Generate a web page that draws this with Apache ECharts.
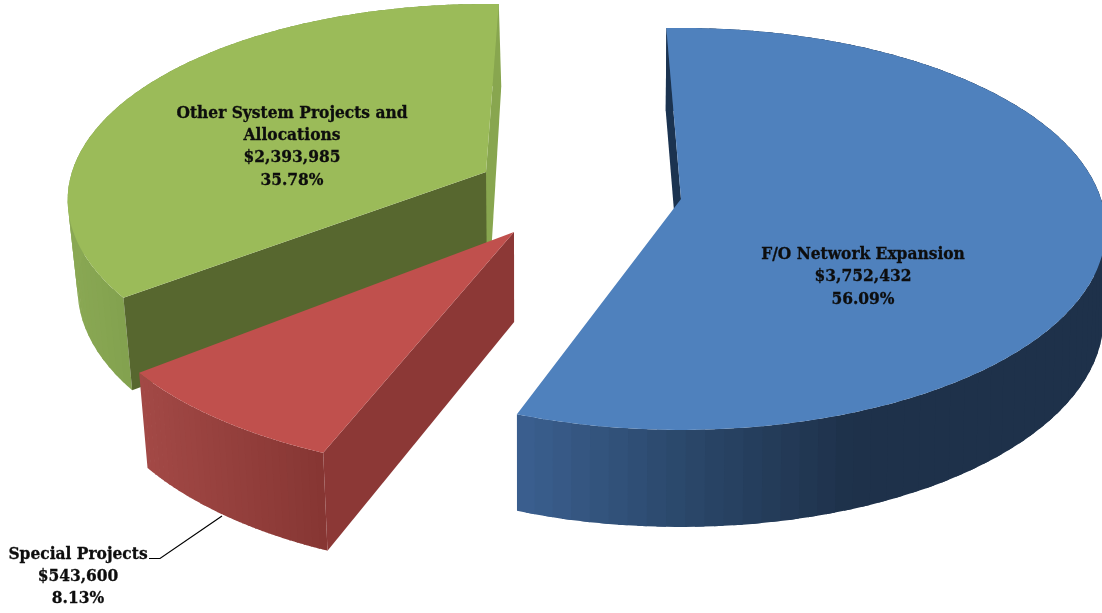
<!DOCTYPE html>
<html>
<head>
<meta charset="utf-8">
<style>html,body{margin:0;padding:0;background:#fff}#chart{width:1102px;height:613px}</style>
<script src="https://cdn.jsdelivr.net/npm/echarts@6/dist/echarts.min.js"></script>
</head>
<body>
<div id="chart"></div>
<script>
// Budget figures
const categories = ['F/O Network Expansion', 'Other System Projects and Allocations', 'Special Projects'];
const amounts = [3752432, 2393985, 543600];
const amountLabels = ['$3,752,432', '$2,393,985', '$543,600'];
const percentLabels = ['56.09%', '35.78%', '8.13%'];
const total = amounts.reduce((s, v) => s + v, 0);

// Exploded-slice placement in the tilted view; the sweep of each comes from its amount
const sliceViews = [
  { cx: 681, cy: 199, a: 420, b: 196.5, p: 0.149, start: -2.3, band: 2 },
  { cx: 486, cy: 172, a: 414, b: 192, p: 0.143, start: 233.2, band: 3 },
  { cx: 514, cy: 232, a: 432, b: 203, p: 0.16, start: 202.1, band: 6 }
];
const topColors = ['#4f81bd', '#9bbb59', '#c0504d'];
const wallStops = [
  [[516, [60, 97, 146]], [690, [43, 72, 107]], [860, [30, 49, 74]], [1102, [30, 49, 74]]],
  [[67, [138, 168, 84]], [135, [130, 161, 78]]],
  [[140, [163, 73, 70]], [328, [134, 54, 51]]]
];
// Faces along the two straight cuts of each slice: first cut, then last cut
const firstCutColors = ['#1b3350', '#57672f', '#8c3836'];
const lastCutColors = [null, '#88a64f', null];
const textColor = '#0d0d0d';
const labelFont = 'bold 17.2px "DejaVu Serif Condensed", "DejaVu Serif", serif';
const labelLines = [
  { x: 863, y: [255, 277, 300], text: [categories[0], amountLabels[0], percentLabels[0]] },
  { x: 292, y: [114, 136, 158, 181], text: ['Other System Projects and', 'Allocations', amountLabels[1], percentLabels[1]] },
  { x: 78, y: [555, 577, 599], text: [categories[2], amountLabels[2], percentLabels[2]] }
];

// A point on the slice's rim at a clockwise angle from twelve o'clock
function rimPoint(v, deg) {
  const t = deg * Math.PI / 180;
  const X = Math.sin(t), Y = -Math.cos(t);
  const w = 1 - v.p * Y;
  return [v.cx + v.a * X / w, v.cy + v.b * Y / w];
}
// The matching point on the underside: vertical edges lean inward and grow toward the viewer
function drop(pt) {
  const lean = pt[0] < 520 ? 0.022 : 0.004;
  return [pt[0] + (520 - pt[0]) * lean, pt[1] + 82 + 0.035 * pt[1]];
}
function shifted(pt, dx) {
  return [pt[0] + dx, pt[1]];
}
function wallColor(stops, x) {
  if (x <= stops[0][0]) return stops[0][1];
  for (let i = 1; i < stops.length; i++) {
    if (x <= stops[i][0]) {
      const f = (x - stops[i - 1][0]) / (stops[i][0] - stops[i - 1][0]);
      return stops[i - 1][1].map((c, k) => c + (stops[i][1][k] - c) * f);
    }
  }
  return stops[stops.length - 1][1];
}
function poly(points, fill) {
  return { type: 'polygon', silent: true, shape: { points }, style: { fill, stroke: null } };
}

function renderSlice(params, api) {
  const i = params.dataIndex;
  const v = sliceViews[i];
  const sweep = api.value(0) / total * 360;
  const rim = [];
  const steps = 180;
  for (let k = 0; k <= steps; k++) rim.push(rimPoint(v, v.start + sweep * k / steps));
  const apex = [v.cx, v.cy];
  const children = [];

  // curved outer wall in overlapping strips, so the seams stay clean
  for (let k = 0; k < steps; k += v.band) {
    const arc = rim.slice(k, Math.min(k + v.band + 2, steps + 1));
    const c = wallColor(wallStops[i], rim[k][0]).map(Math.round);
    children.push(poly(arc.concat(arc.slice().reverse().map(drop)), `rgb(${c[0]},${c[1]},${c[2]})`));
  }
  // straight cut faces; the lit one flares slightly toward its lower corner
  if (lastCutColors[i]) {
    children.push(poly([
      apex, rim[steps], shifted(drop(rim[steps]), 2), shifted(drop(apex), 4), shifted(drop(apex), -1)
    ], lastCutColors[i]));
  }
  children.push(poly([apex, rim[0], drop(rim[0]), drop(apex)], firstCutColors[i]));
  // top surface
  children.push(poly([apex].concat(rim), topColors[i]));

  // data label
  const lab = labelLines[i];
  lab.text.forEach((t, n) => {
    children.push({
      type: 'text', silent: true,
      style: {
        text: t, x: lab.x, y: lab.y[n], font: labelFont, fill: textColor,
        stroke: textColor, lineWidth: 0.3, align: 'center', verticalAlign: 'middle'
      }
    });
  });
  // leader from the small slice out to its label
  if (i === 2) {
    children.push({
      type: 'polyline', silent: true,
      shape: { points: [[149, 558.5], [160, 558.5], [222, 516]] },
      style: { fill: 'none', stroke: '#000', lineWidth: 1.2 }
    });
  }
  return { type: 'group', children };
}

const chart = echarts.init(document.getElementById('chart'), null, { renderer: 'canvas' });
chart.setOption({
  animation: false,
  backgroundColor: '#fff',
  series: [{
    type: 'custom',
    coordinateSystem: 'none',
    renderItem: renderSlice,
    data: amounts.map((v, i) => ({ name: categories[i], value: [v] })),
    clip: false
  }]
});
</script>
</body>
</html>
